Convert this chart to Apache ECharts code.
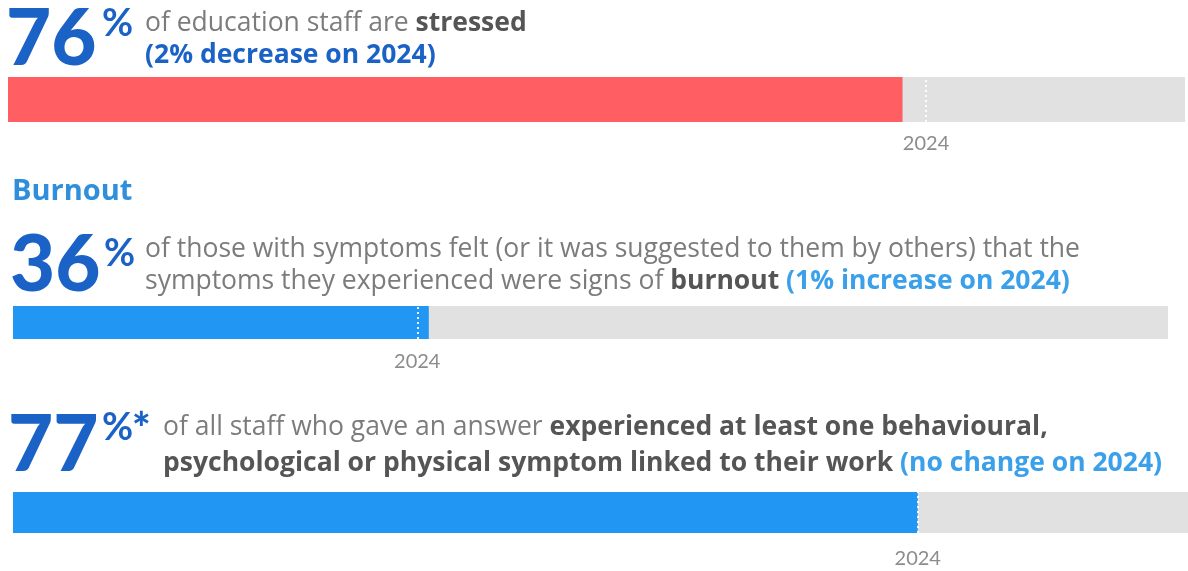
<!DOCTYPE html>
<html>
<head>
<meta charset="utf-8">
<style>
  html, body { margin: 0; padding: 0; background: #ffffff; }
  #chart { width: 1188px; height: 571px; }
</style>
<script src="https://cdn.jsdelivr.net/npm/echarts@6/dist/echarts.min.js"></script>
</head>
<body>
<div id="chart"></div>
<script>
// Wellbeing indicators: share of staff (%) this year and the 2024 figure
const metrics = ['stressed', 'burnout', 'symptoms'];
const currentValues = [76, 36, 77];
const previousValues = [78, 35, 77];
const previousYearLabel = '2024';
const headlineNumbers = ['76', '36', '77'];
const headlineSuffixes = ['%', '%', '%'];
const sectionHeading = 'Burnout';
const statementLines = [
  ['{t|of education staff are }{b|stressed}', '{c|(2% decrease on 2024)}'],
  ['{t|of those with symptoms felt (or it was suggested to them by others) that the}',
   '{t|symptoms they experienced were signs of }{b|burnout}{l| (1% increase on 2024)}'],
  ['{t|of all staff who gave an answer }{b|experienced at least one behavioural,}',
   '{b|psychological or physical symptom linked to their work}{l| (no change on 2024)}']
];

const FONT = '"Open Sans", Lato, sans-serif';
const NUM_FONT = 'Lato, "Open Sans", sans-serif';
const BIG_BLUE = '#1b62c6';
const barColors = ['#ff5f63', '#2196f3', '#2196f3'];
const trackColor = '#e1e1e1';
const BODY_SIZE = 26.5;

const gridBoxes = [
  { left: 8, right: 3, top: 77, height: 45 },
  { left: 13, right: 20, top: 306, height: 33 },
  { left: 13, right: 0, top: 492, height: 41 }
];
const labelGaps = [12, 13, 16];

const bodyRich = {
  t: { fontFamily: FONT, fontSize: BODY_SIZE, fill: '#7c7c7c' },
  b: { fontFamily: FONT, fontSize: BODY_SIZE, fontWeight: 'bold', fill: '#555555' },
  c: { fontFamily: FONT, fontSize: BODY_SIZE, fontWeight: 'bold', fill: BIG_BLUE },
  l: { fontFamily: FONT, fontSize: BODY_SIZE, fontWeight: 'bold', fill: '#3aa0ea' }
};

// text anchors for each block: number, suffix, statement lines
const blockLayout = [
  { numX: 6, numY: 40, sufX: 102, sufY: 24, txtX: 145, lineY: [23, 55] },
  { numX: 10, numY: 266, sufX: 104, sufY: 254, txtX: 145, lineY: [249, 281] },
  { numX: 8, numY: 446, sufX: 102, sufY: 428, txtX: 163, lineY: [427, 463] }
];

const graphics = [];
blockLayout.forEach((p, i) => {
  graphics.push({
    type: 'text', x: p.numX, y: p.numY, silent: true,
    style: { text: headlineNumbers[i], fill: BIG_BLUE, font: `900 78px ${NUM_FONT}`, verticalAlign: 'middle' }
  });
  graphics.push({
    type: 'text', x: p.sufX, y: p.sufY, silent: true,
    style: { text: headlineSuffixes[i], fill: BIG_BLUE, font: `bold 38px ${NUM_FONT}`, verticalAlign: 'middle' }
  });
  statementLines[i].forEach((line, k) => {
    graphics.push({
      type: 'text', x: p.txtX, y: p.lineY[k], silent: true,
      style: { text: line, rich: bodyRich, verticalAlign: 'middle', font: `${BODY_SIZE}px ${FONT}` }
    });
  });
});
// footnote marker after the third percentage
graphics.push({
  type: 'text', x: 132, y: 430, silent: true,
  style: { text: '*', fill: BIG_BLUE, font: `900 44px ${NUM_FONT}`, verticalAlign: 'middle' }
});
graphics.push({
  type: 'text', x: 12, y: 192, silent: true,
  style: { text: sectionHeading, fill: '#2f8fdc', font: `bold 29px ${FONT}`, verticalAlign: 'middle' }
});

const grids = gridBoxes.map(g => Object.assign({ containLabel: false }, g));
const xAxes = metrics.map((m, i) => ({
  type: 'value', gridIndex: i, min: 0, max: 100, show: false
}));
const yAxes = metrics.map((m, i) => ({
  type: 'category', gridIndex: i, data: [m], show: false
}));
const series = metrics.map((m, i) => ({
  type: 'bar', name: m, xAxisIndex: i, yAxisIndex: i,
  data: [currentValues[i]],
  barWidth: '100%',
  itemStyle: { color: barColors[i] },
  showBackground: true,
  backgroundStyle: { color: trackColor },
  silent: true,
  markLine: {
    silent: true,
    symbol: ['none', 'none'],
    lineStyle: { color: '#ffffff', type: [2, 3], width: 2, opacity: 0.9 },
    label: {
      show: true, position: 'start', distance: labelGaps[i],
      formatter: previousYearLabel,
      color: '#7f7f7f', fontFamily: NUM_FONT, fontSize: 20
    },
    data: [{ xAxis: previousValues[i] }]
  }
}));

const chart = echarts.init(document.getElementById('chart'), null, { renderer: 'canvas' });
chart.setOption({
  animation: false,
  backgroundColor: '#ffffff',
  grid: grids,
  xAxis: xAxes,
  yAxis: yAxes,
  series: series,
  graphic: graphics
});
</script>
</body>
</html>
